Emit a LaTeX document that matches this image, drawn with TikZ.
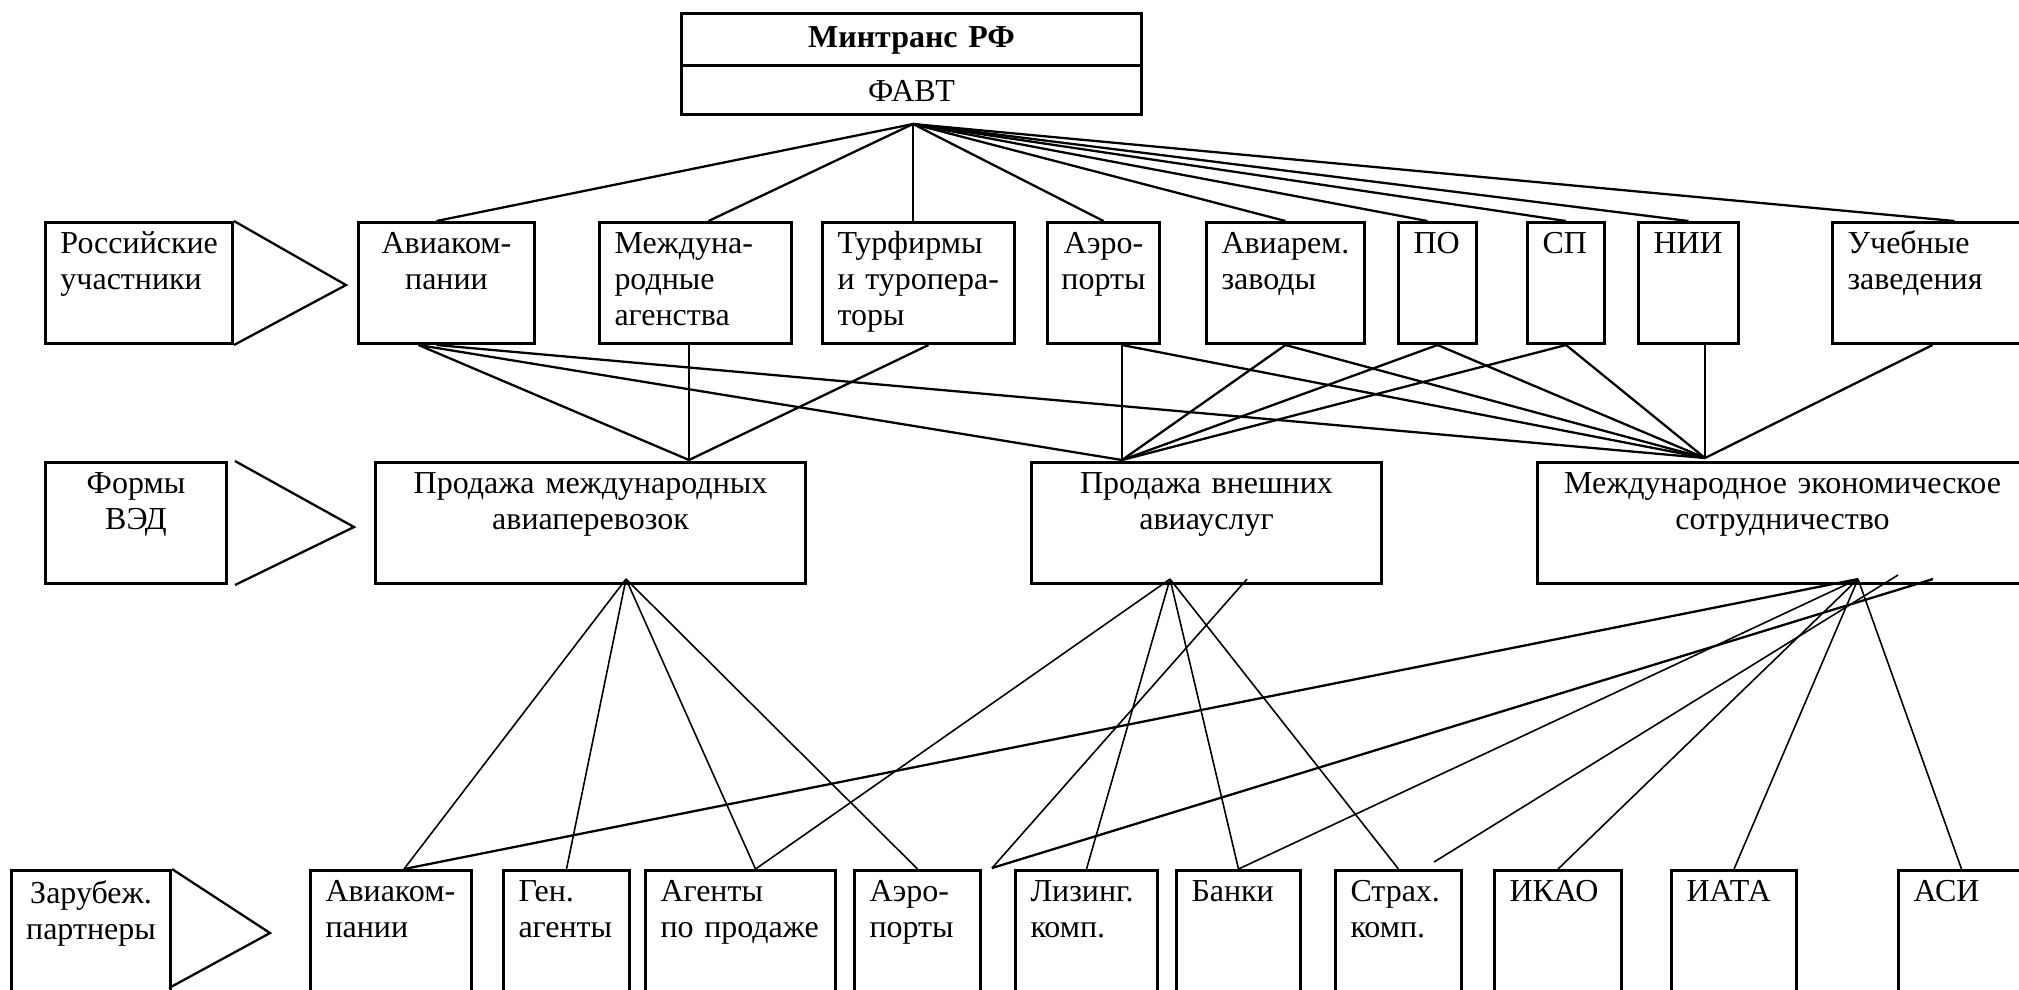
\documentclass[tikz,border=0pt]{standalone}
\usepackage{fontspec}
\setmainfont{Liberation Serif}
\exhyphenpenalty=10000
\hyphenpenalty=10000
\begin{document}
\begin{tikzpicture}[
  box/.style={draw, line width=0.85pt, anchor=north west, inner xsep=0.15cm, inner ysep=0pt,
    text height=0.31cm, align=left, font=\fontsize{9.1pt}{10.2pt}\selectfont},
  cbox/.style={box, inner xsep=0.05cm, align=center},
  link/.style={line width=0.65pt},
  flink/.style={line width=0.45pt}]
\useasboundingbox (0,0) rectangle (20.19,-9.89);
\node[cbox, text width=4.50cm, text height=0.34cm, text depth=0.18cm] (min) at (6.80,-0.12){\bfseries Минтранс~РФ};
\node[cbox, text width=4.50cm, text height=0.36cm, text depth=0.13cm] (favt) at (6.80,-0.64){ФАВТ};
\coordinate (hub) at (9.13,-1.24);
\node[box, text width=1.57cm, text depth=0.90cm] (rus) at (0.44,-2.21){Российские\\участники};
\node[cbox, text width=1.66cm, text depth=0.90cm] (av1) at (3.57,-2.21){Авиаком-\\пании};
\node[box, text width=1.62cm, text depth=0.90cm] (ma) at (5.98,-2.21){Междуна-\\родные\\агенства};
\node[box, text width=1.62cm, text depth=0.90cm] (tur) at (8.21,-2.21){Турфирмы\\и~туропера-\\торы};
\node[cbox, text width=1.02cm, text depth=0.90cm] (aer1) at (10.46,-2.21){Аэро-\\порты};
\node[box, text width=1.28cm, text depth=0.90cm] (rem) at (12.05,-2.21){Авиарем.\\заводы};
\node[box, text width=0.48cm, text depth=0.90cm] (po) at (13.97,-2.21){ПО};
\node[box, text width=0.47cm, text depth=0.90cm] (sp) at (15.26,-2.21){СП};
\node[box, text width=0.70cm, text depth=0.90cm] (nii) at (16.37,-2.21){НИИ};
\node[box, text width=1.70cm, text depth=0.90cm] (ucheb) at (18.31,-2.21){Учебные\\заведения};
\coordinate (rusT) at (3.46,-2.85);
\node[cbox, text width=1.71cm, text depth=0.90cm] (ved) at (0.44,-4.61){Формы\\ВЭД};
\node[cbox, text width=4.20cm, text depth=0.90cm] (pma) at (3.74,-4.61){Продажа международных\\авиаперевозок};
\node[cbox, text width=3.40cm, text depth=0.90cm] (pva) at (10.30,-4.61){Продажа внешних\\авиауслуг};
\node[cbox, text width=4.80cm, text depth=0.90cm] (mes) at (15.36,-4.61){Международное~экономическое\\сотрудничество};
\coordinate (vedT) at (3.54,-5.27);
\coordinate (pmaT) at (6.89,-4.60);
\coordinate (pvaT) at (11.22,-4.60);
\coordinate (mesT) at (17.05,-4.58);
\coordinate (pmaB) at (6.26,-5.79);
\coordinate (pvaB) at (11.70,-5.79);
\coordinate (mesB) at (18.58,-5.79);
\node[cbox, text width=1.49cm, text height=0.33cm, text depth=1.17cm] (zar) at (0.10,-8.69){Зарубеж.\\партнеры};
\node[box, text width=1.31cm, text depth=1.19cm] (av2) at (3.09,-8.69){Авиаком-\\пании};
\node[box, text width=0.96cm, text depth=1.19cm] (gen) at (5.02,-8.69){Ген.\\агенты};
\node[box, text width=1.60cm, text depth=1.19cm] (agt) at (6.44,-8.69){Агенты\\по~продаже};
\node[box, text width=0.96cm, text depth=1.19cm] (aer2) at (8.53,-8.69){Аэро-\\порты};
\node[box, text width=1.12cm, text depth=1.19cm] (liz) at (10.14,-8.69){Лизинг.\\комп.};
\node[box, text width=0.94cm, text depth=1.19cm] (bank) at (11.75,-8.69){Банки};
\node[box, text width=0.96cm, text depth=1.19cm] (strah) at (13.34,-8.69){Страх.\\комп.};
\node[box, text width=0.97cm, text depth=1.19cm] (ikao) at (14.93,-8.69){ИКАО};
\node[box, text width=0.95cm, text depth=1.19cm] (iata) at (16.70,-8.69){ИАТА};
\node[box, text width=1.20cm, text depth=1.19cm] (asi) at (18.97,-8.69){АСИ};
\coordinate (zarT) at (2.70,-9.33);
\coordinate (zarB) at (1.69,-9.88);
\coordinate (sA) at (12.47,-5.79);
\coordinate (sB) at (9.92,-8.68);
\coordinate (sC) at (19.33,-5.79);
\coordinate (sD) at (14.34,-8.62);
\coordinate (sE) at (18.98,-5.75);
% pointers
\draw[link] (rus.north east) -- (rusT) -- (rus.south east);
\draw[link] ([xshift=0.07cm]ved.north east) -- (vedT) -- ([xshift=0.07cm]ved.south east);
\draw[link] (zar.north east) -- (zarT) -- (zarB);
% ФАВТ
\draw[link] (hub) -- ([xshift=-0.1cm]av1.north);
\draw[link] (hub) -- ([xshift=0.13cm]ma.north);
\draw[link] (hub) -- (hub |- tur.north);
\draw[link] (hub) -- (aer1.north);
\draw[link] (hub) -- (rem.north);
\draw[link] (hub) -- ([xshift=-0.1cm]po.north);
\draw[link] (hub) -- (sp.north);
\draw[link] (hub) -- (nii.north);
\draw[link] (hub) -- ([xshift=0.22cm]ucheb.north);
% участники -> формы
\draw[link] ([xshift=-0.28cm]av1.south) -- (pmaT);
\draw[link] ([xshift=-0.28cm]av1.south) -- (pvaT);
\draw[link] ([xshift=-0.1cm]av1.south) -- (mesT);
\draw[flink] (ma.south -| pmaT) -- (pmaT);
\draw[link] ([xshift=0.1cm]tur.south) -- (pmaT);
\draw[flink] (aer1.south -| pvaT) -- (pvaT);
\draw[link] (aer1.south -| pvaT) -- (mesT);
\draw[link] (rem.south) -- (pvaT);
\draw[link] (rem.south) -- (mesT);
\draw[link] (po.south) -- (pvaT);
\draw[link] (po.south) -- (mesT);
\draw[link] (sp.south) -- (pvaT);
\draw[link] (sp.south) -- (mesT);
\draw[flink] (nii.south -| mesT) -- (mesT);
\draw[link] (ucheb.south) -- (mesT);
% формы -> партнеры
\draw[flink] (pmaB) -- ([xshift=0.13cm]av2.north);
\draw[flink] (pmaB) -- (gen.north);
\draw[flink] (pmaB) -- ([xshift=0.15cm]agt.north);
\draw[flink] (pmaB) -- (aer2.north);
\draw[flink] (pvaB) -- ([xshift=0.15cm]agt.north);
\draw[flink] (pvaB) -- (liz.north);
\draw[flink] (pvaB) -- (bank.north);
\draw[flink] (pvaB) -- (strah.north);
\draw[link] (mesB) -- ([xshift=0.13cm]av2.north);
\draw[flink] (mesB) -- (bank.north);
\draw[flink] (mesB) -- (ikao.north);
\draw[flink] (mesB) -- (iata.north);
\draw[flink] (mesB) -- ([xshift=-0.12cm]asi.north);
\draw[flink] (sA) -- (sB);
\draw[link] (sB) -- (sC);
\draw[flink] (sD) -- (sE);
\end{tikzpicture}
\end{document}
